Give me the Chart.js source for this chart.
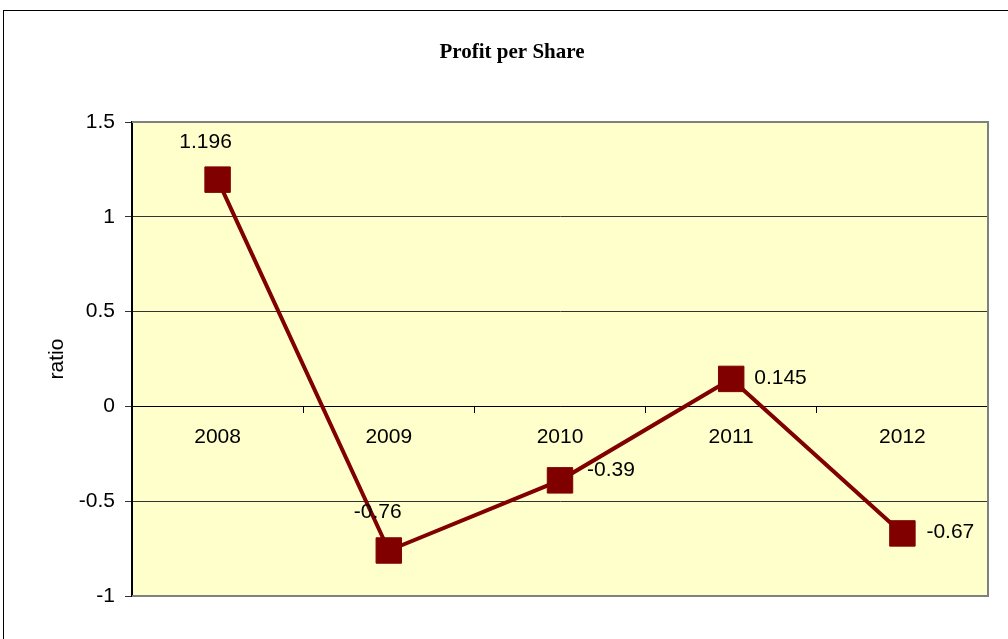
<!DOCTYPE html>
<html><head><meta charset="utf-8">
<script src="https://cdn.jsdelivr.net/npm/chart.js@4"></script>
<style>
html,body{margin:0;padding:0;background:#fff;overflow:hidden}
#wrap{position:relative;width:1008px;height:639px}
#frame{position:absolute;left:3px;top:10px;width:1100px;height:1000px;border:1px solid #000;pointer-events:none}
canvas{position:absolute;left:0;top:0}
</style></head><body>
<div id="wrap"><canvas id="c" width="1008" height="639"></canvas><div id="frame"></div></div>
<script>
const years = ['2008', '2009', '2010', '2011', '2012'];
const profitPerShare = [1.196, -0.76, -0.39, 0.145, -0.67];
const yTicks = [-1, -0.5, 0, 0.5, 1, 1.5];
const chartTitle = 'Profit per Share';
const yAxisTitle = 'ratio';

const sansFont = { family: '"Liberation Sans", Arial, sans-serif', size: 21, lineHeight: 1.2 };

const plotDecor = {
  id: 'plotDecor',
  beforeDraw(chart) {
    const { ctx, chartArea: a } = chart;
    ctx.save();
    ctx.fillStyle = '#FFFFCC';
    ctx.fillRect(a.left, a.top, a.right - a.left, a.bottom - a.top);
    ctx.restore();
  },
  beforeDatasetsDraw(chart) {
    const { ctx, chartArea: a } = chart;
    ctx.save();
    ctx.strokeStyle = '#808080';
    ctx.lineWidth = 2;
    ctx.beginPath();
    ctx.moveTo(a.left, a.top);
    ctx.lineTo(a.right, a.top);
    ctx.lineTo(a.right, a.bottom);
    ctx.lineTo(a.left, a.bottom);
    ctx.stroke();
    ctx.restore();
  },
  afterDatasetsDraw(chart, args, opts) {
    const { ctx } = chart;
    const meta = chart.getDatasetMeta(0);
    const data = chart.data.datasets[0].data;
    ctx.save();
    ctx.fillStyle = '#000';
    ctx.font = sansFont.size + 'px ' + sansFont.family;
    ctx.textBaseline = 'middle';
    meta.data.forEach((pt, i) => {
      const o = opts.placement[i];
      ctx.textAlign = o.align;
      ctx.fillText(String(data[i]), pt.x + o.dx, pt.y + o.dy);
    });
    ctx.restore();
  }
};

new Chart(document.getElementById('c'), {
  type: 'line',
  data: {
    labels: years,
    datasets: [{
      data: profitPerShare,
      borderColor: '#800000',
      borderWidth: 4,
      pointStyle: 'rect',
      pointRadius: 18,
      pointBackgroundColor: '#800000',
      pointBorderColor: '#800000',
      pointBorderWidth: 1,
      tension: 0,
      clip: false
    }]
  },
  plugins: [plotDecor],
  options: {
    responsive: false,
    animation: false,
    events: [],
    layout: { padding: { left: 16, right: 0, top: 0, bottom: 43 } },
    plugins: {
      legend: { display: false },
      tooltip: { enabled: false },
      title: {
        display: true,
        text: chartTitle,
        color: '#000',
        font: { family: '"Liberation Serif", "Times New Roman", serif', size: 21, weight: 'bold', lineHeight: 1.2 },
        padding: { top: 40.4, bottom: 56.4 }
      },
      plotDecor: {
        placement: [
          { dx: -12, dy: -37, align: 'center' },
          { dx: -11, dy: -38, align: 'center' },
          { dx: 27, dy: -10, align: 'left' },
          { dx: 23, dy: -1, align: 'left' },
          { dx: 24, dy: -1, align: 'left' }
        ]
      }
    },
    scales: {
      x: {
        type: 'category',
        position: { y: 0 },
        offset: true,
        grid: { display: true, drawOnChartArea: false, drawTicks: true, tickLength: 6, color: '#000', offset: true },
        border: { display: true, color: '#000', width: 1 },
        ticks: { color: '#000', font: sansFont, padding: 12, maxRotation: 0 }
      },
      y: {
        min: -1,
        max: 1.5,
        afterBuildTicks: s => { s.ticks = yTicks.map(v => ({ value: v })); },
        afterFit: s => { s.width = 116; },
        grid: { color: '#333', lineWidth: 1, tickLength: 7, drawTicks: true },
        border: { display: true, color: '#000', width: 2 },
        ticks: { color: '#000', font: sansFont, padding: 10, callback: v => String(v) },
        title: { display: true, text: yAxisTitle, color: '#000', font: sansFont, padding: { top: 28.4, bottom: 0 } }
      },
      spacer: {
        type: 'linear',
        position: 'right',
        display: true,
        grid: { display: false, drawTicks: false },
        border: { display: false },
        ticks: { display: false },
        afterFit: s => { s.width = 20; }
      }
    }
  }
});
</script>
</body></html>
